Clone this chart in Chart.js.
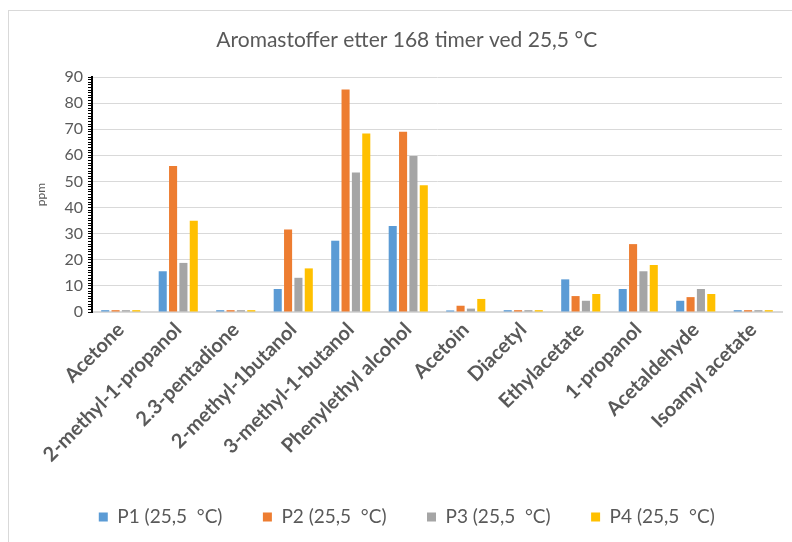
<!DOCTYPE html>
<html>
<head>
<meta charset="utf-8">
<script src="https://cdn.jsdelivr.net/npm/chart.js@4.4.1/dist/chart.umd.min.js"></script>
<style>
  html, body { margin: 0; padding: 0; background: #fff; }
  #wrap { position: relative; width: 792px; height: 542px; overflow: hidden; }
  #frame { position: absolute; left: 8px; top: 10px; width: 820px; height: 580px;
           border-left: 1px solid #d9d9d9; border-top: 1px solid #d9d9d9; }
  canvas { position: absolute; left: 0; top: 0; }
</style>
</head>
<body>
<div id="wrap">
  <div id="frame"></div>
  <canvas id="chart" width="792" height="542"></canvas>
</div>
<script>
// Aroma compounds measured after 168 h at 25.5 °C (ppm)
const categories = [
  'Acetone', '2-methyl-1-propanol', '2.3-pentadione', '2-methyl-1butanol',
  '3-methyl-1-butanol', 'Phenylethyl alcohol', 'Acetoin', 'Diacetyl',
  'Ethylacetate', '1-propanol', 'Acetaldehyde', 'Isoamyl acetate'
];
const seriesNames = ['P1 (25,5  °C)', 'P2 (25,5  °C)', 'P3 (25,5  °C)', 'P4 (25,5  °C)'];
const p1 = [0.7, 15.6, 0.7, 8.8, 27.3, 32.9, 0.6, 0.7, 12.5, 8.8, 4.3, 0.7];
const p2 = [0.7, 55.9, 0.7, 31.6, 85.2, 69.0, 2.4, 0.7, 6.1, 26.0, 5.7, 0.7];
const p3 = [0.7, 18.8, 0.7, 13.1, 53.4, 59.7, 1.3, 0.7, 4.3, 15.6, 8.8, 0.7];
const p4 = [0.7, 34.9, 0.7, 16.7, 68.4, 48.5, 5.0, 0.7, 6.9, 18.0, 6.9, 0.7];
const yMin = 0, yMax = 90, yMajorStep = 10, yMinorStep = 1;

const colors = ['#5B9BD5', '#ED7D31', '#A5A5A5', '#FFC000'];
const textColor = '#595959';
const family = 'Lato, "Open Sans", sans-serif';

const seriesValues = [p1, p2, p3, p4];
const datasets = seriesValues.map((vals, i) => ({
  label: seriesNames[i],
  data: vals,
  backgroundColor: colors[i],
  borderWidth: 0,
  categoryPercentage: 0.72,
  barPercentage: 0.78
}));

new Chart(document.getElementById('chart'), {
  type: 'bar',
  data: { labels: categories, datasets },
  options: {
    responsive: false,
    animation: false,
    layout: { padding: { left: 31.5, right: 10, top: 0, bottom: 5.5 } },
    plugins: {
      title: {
        display: true,
        text: 'Aromastoffer etter 168 timer ved 25,5 °C',
        color: textColor,
        font: { family, size: 21, weight: 'normal' },
        padding: { top: 27.4, bottom: 24.4 }
      },
      legend: {
        position: 'bottom',
        labels: {
          color: textColor,
          font: { family, size: 19 },
          boxWidth: 9,
          boxHeight: 9,
          padding: 40.5
        }
      },
      tooltip: { enabled: false }
    },
    scales: {
      x: {
        afterFit: (axis) => { axis.height = 155; },
        grid: { display: false, drawTicks: false },
        border: { color: '#d9d9d9', width: 2 },
        ticks: {
          autoSkip: false,
          maxRotation: 45,
          minRotation: 45,
          padding: 6,
          color: textColor,
          font: { family, size: 20, weight: 'bold' }
        }
      },
      y: {
        min: yMin,
        max: yMax,
        afterFit: (axis) => { axis.width = 60.5; },
        border: { color: '#000', width: 2 },
        grid: {
          color: (ctx) => (ctx.tick && ctx.tick.value % yMajorStep === 0) ? '#d9d9d9' : 'rgba(0,0,0,0)',
          tickColor: '#000',
          tickLength: 4,
          lineWidth: 1,
          tickWidth: 1
        },
        ticks: {
          stepSize: yMinorStep,
          autoSkip: false,
          padding: 5,
          color: textColor,
          font: { family, size: 16 },
          callback: (v) => (v % yMajorStep === 0 ? String(v) : '')
        },
        title: {
          display: true,
          text: 'ppm',
          color: textColor,
          font: { family, size: 12 },
          padding: { top: 2.3, bottom: 0 }
        }
      }
    }
  }
});
</script>
</body>
</html>
